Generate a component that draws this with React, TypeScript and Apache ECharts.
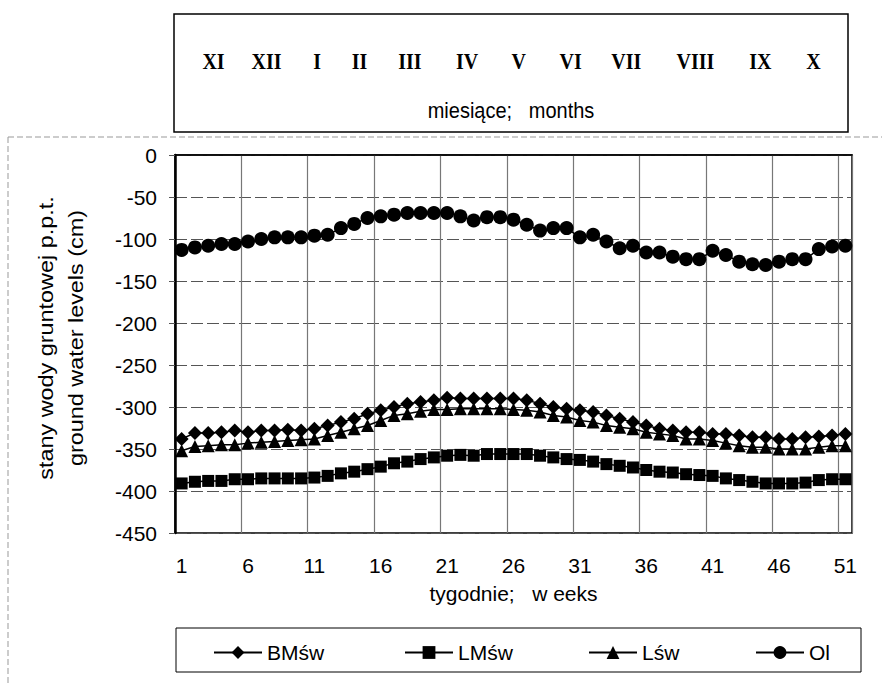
import React, { useEffect, useRef } from "react";
import * as echarts from "echarts";

const weeks = ["1","2","3","4","5","6","7","8","9","10","11","12","13","14","15","16","17","18","19","20","21","22","23","24","25","26","27","28","29","30","31","32","33","34","35","36","37","38","39","40","41","42","43","44","45","46","47","48","49","50","51"];

const bmsw = [-338,-331,-331,-330,-328,-330,-328,-328,-327,-328,-326,-322,-318,-314,-308,-304,-300,-296,-294,-292,-289,-290,-290,-290,-290,-290,-292,-296,-300,-302,-304,-306,-310,-314,-318,-322,-326,-328,-330,-330,-332,-332,-334,-336,-336,-338,-338,-336,-335,-334,-332];

const lmsw = [-391,-389,-388,-388,-386,-386,-385,-385,-385,-385,-384,-382,-379,-377,-374,-371,-367,-365,-362,-360,-358,-357,-358,-356,-356,-356,-356,-358,-360,-362,-363,-365,-368,-370,-372,-375,-377,-378,-380,-381,-382,-385,-387,-389,-391,-391,-391,-390,-387,-386,-386];

const lsw = [-352,-347,-346,-345,-345,-343,-342,-341,-340,-339,-338,-334,-330,-326,-322,-316,-310,-308,-305,-303,-303,-302,-302,-302,-302,-303,-304,-306,-310,-312,-316,-318,-322,-324,-326,-330,-332,-334,-338,-338,-340,-343,-346,-348,-348,-350,-350,-350,-348,-346,-346];

const ol = [-113,-110,-108,-106,-106,-103,-100,-98,-98,-98,-96,-95,-87,-82,-75,-73,-71,-69,-69,-69,-69,-73,-78,-74,-74,-77,-83,-90,-87,-87,-98,-95,-103,-111,-108,-116,-116,-121,-124,-124,-114,-119,-127,-130,-131,-127,-124,-124,-112,-109,-108];

const months = ["XI","XII","I","II","III","IV","V","VI","VII","VIII","IX","X"];
const monthCenterWeek = [3.4, 7.4, 11.2, 14.4, 18.2, 22.5, 26.4, 30.3, 34.5, 39.7, 44.6, 48.6];

const seriesNames = ["BMśw", "LMśw", "Lśw", "Ol"];

const FONT = "Liberation Sans, Arial, sans-serif";
const GL = 175, GT = 155, GW = 677, GH = 378;

export default function App() {
  const ref = useRef<HTMLDivElement>(null);
  useEffect(() => {
    document.body.style.margin = "0";
    if (!ref.current) return;
    const chart = echarts.init(ref.current, null, { renderer: "svg" });
    const catW = GW / weeks.length;
    const monthTexts = months.map((m, i) => ({
      type: "text",
      x: GL + (monthCenterWeek[i] - 0.5) * catW,
      y: 62,
      scaleY: 1.12,
      style: {
        text: m,
        fontFamily: "Liberation Serif, Times New Roman, serif",
        fontWeight: "bold",
        fontSize: 20,
        fill: "#000",
        align: "center",
        verticalAlign: "middle",
      },
    }));
    const mkSeries = (name: string, data: number[], symbol: string, size: number) => ({
      name,
      type: "line",
      data,
      symbol,
      symbolSize: size,
      showAllSymbol: true,
      lineStyle: { color: "#000", width: 1.5 },
      itemStyle: { color: "#000" },
    });
    const legendLefts = [213, 404, 588, 755];
    chart.setOption({
      animation: false,
      backgroundColor: "#fff",
      grid: {
        left: GL,
        top: GT,
        width: GW,
        height: GH,
        show: true,
        borderColor: "#000",
        borderWidth: 1.5,
        backgroundColor: "transparent",
      },
      xAxis: {
        type: "category",
        data: weeks,
        boundaryGap: true,
        axisLine: { lineStyle: { color: "#000", width: 1.5 } },
        axisTick: { show: false },
        axisLabel: { interval: 4, margin: 22, fontSize: 21, fontFamily: FONT, color: "#000" },
        splitLine: { show: true, interval: 4, lineStyle: { color: "#777", width: 1.2 } },
        name: "tygodnie;   w eeks",
        nameLocation: "middle",
        nameGap: 50,
        nameTextStyle: { fontSize: 21, fontFamily: FONT, color: "#000" },
      },
      yAxis: {
        type: "value",
        min: -450,
        max: 0,
        interval: 50,
        axisLine: { show: true, lineStyle: { color: "#000", width: 2.5 } },
        axisTick: { show: true, length: 6, lineStyle: { color: "#555" } },
        axisLabel: { margin: 18, fontSize: 21, fontFamily: FONT, color: "#000" },
        splitLine: { show: true, lineStyle: { color: "#555", width: 1, type: [12, 4] } },
      },
      legend: seriesNames.map((n, i) => ({
        data: [n],
        left: legendLefts[i],
        top: 642,
        padding: 0,
        itemWidth: 48,
        itemHeight: 16,
        textStyle: { fontSize: 21, fontFamily: FONT, color: "#000" },
        selectedMode: false,
      })),
      series: [
        mkSeries(seriesNames[0], bmsw, "diamond", 14),
        mkSeries(seriesNames[1], lmsw, "rect", 12),
        mkSeries(seriesNames[2], lsw, "triangle", 13),
        mkSeries(seriesNames[3], ol, "circle", 14),
      ],
      graphic: [
        {
          type: "line",
          shape: { x1: 8, y1: 137, x2: 882, y2: 137 },
          style: { stroke: "#999", lineWidth: 1, lineDash: [6, 3] },
        },
        {
          type: "line",
          shape: { x1: 8, y1: 137, x2: 8, y2: 685 },
          style: { stroke: "#999", lineWidth: 1, lineDash: [6, 3] },
        },
        {
          type: "rect",
          shape: { x: 174, y: 14, width: 674, height: 118 },
          style: { fill: "none", stroke: "#000", lineWidth: 1.5 },
        },
        ...monthTexts,
        {
          type: "text",
          x: 511,
          y: 110,
          scaleY: 1.12,
          style: {
            text: "miesiące;   months",
            fontFamily: FONT,
            fontSize: 20,
            fill: "#000",
            align: "center",
            verticalAlign: "middle",
          },
        },
        {
          type: "text",
          x: 61,
          y: 338,
          rotation: Math.PI / 2,
          scaleX: 1.17,
          style: {
            text: "stany wody gruntowej p.p.t.\nground water levels (cm)",
            fontFamily: FONT,
            fontSize: 20,
            lineHeight: 30,
            fill: "#000",
            align: "center",
            verticalAlign: "middle",
          },
        },
        {
          type: "rect",
          shape: { x: 176, y: 628, width: 685, height: 44 },
          style: { fill: "none", stroke: "#000", lineWidth: 1 },
        },
      ],
    });
    return () => chart.dispose();
  }, []);
  return <div ref={ref} style={{ width: 882, height: 685 }} />;
}
